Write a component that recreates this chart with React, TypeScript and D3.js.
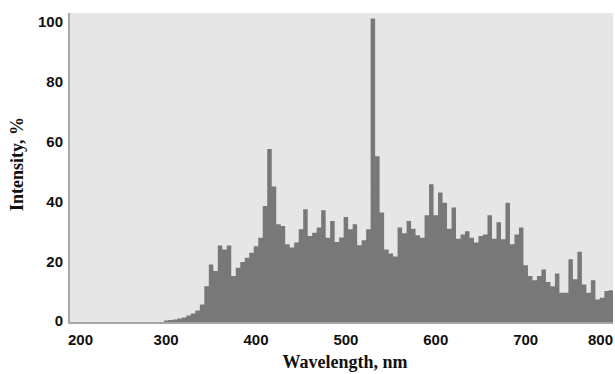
import React, { useEffect, useRef } from "react";
import * as d3 from "d3";

// bin centres, nm (5 nm bins)
const wavelengths = [
  300, 305, 310, 315, 320, 325, 330, 335, 340, 345,
  350, 355, 360, 365, 370, 375, 380, 385, 390, 395,
  400, 405, 410, 415, 420, 425, 430, 435, 440, 445,
  450, 455, 460, 465, 470, 475, 480, 485, 490, 495,
  500, 505, 510, 515, 520, 525, 530, 535, 540, 545,
  550, 555, 560, 565, 570, 575, 580, 585, 590, 595,
  600, 605, 610, 615, 620, 625, 630, 635, 640, 645,
  650, 655, 660, 665, 670, 675, 680, 685, 690, 695,
  700, 705, 710, 715, 720, 725, 730, 735, 740, 745,
  750, 755, 760, 765, 770, 775, 780, 785, 790, 795,
];

// intensity, %
const intensity = [
  0.2, 0.3, 0.5, 0.8, 1.2, 1.8, 2.5, 3.5, 5.5, 11.6,
  18.9, 16.7, 25.2, 23.9, 25.2, 15, 17.8, 19.7, 21.1, 22.8,
  25, 27.8, 38.4, 57.4, 44.9, 32.3, 31.7, 25.6, 24.5, 26.2,
  30.6, 37.3, 28.4, 29.5, 31.2, 37, 27.8, 33.4, 26.4, 27.9,
  34.7, 30.6, 32.3, 25.3, 27, 30.6, 101, 55, 36.2, 23.9,
  22.5, 21.5, 31.2, 29.3, 33.4, 30.8, 28.6, 27.8, 35.3, 45.7,
  35.3, 42.9, 39.5, 30.8, 37.9, 27.5, 28.9, 30, 27.8, 26.2,
  28.4, 28.9, 35.3, 27.5, 33, 27.3, 39.5, 25.6, 28.9, 31.2,
  18.6, 15, 13.6, 15, 17.2, 13, 11.6, 15.9, 9.4, 9.4,
  20.6, 13.9, 23.1, 12.2, 9.4, 13.6, 7.2, 7.8, 10, 10.3,
];

const xTicks = [200, 300, 400, 500, 600, 700, 800];
const yTicks = [0, 20, 40, 60, 80, 100];

const W = 615;
const H = 374;
const plot = { left: 69, right: 613, top: 13, bottom: 324 };
const binWidth = 5;

const App = () => {
  const svgRef = useRef<SVGSVGElement | null>(null);

  useEffect(() => {
    const svg = d3.select(svgRef.current);
    svg.selectAll("*").remove();

    const x = d3.scaleLinear().domain([200, 800]).range([76.2, 615.6]);
    const y = d3.scaleLinear().domain([0, 100]).range([321, 21.5]);

    // step outline: each bin starts at its left edge, last point closes the final bin
    const steps = wavelengths.map((w, i) => ({ edge: w - binWidth / 2, v: intensity[i] }));
    steps.push({
      edge: wavelengths[wavelengths.length - 1] + binWidth / 2,
      v: intensity[intensity.length - 1],
    });

    svg
      .append("defs")
      .append("clipPath")
      .attr("id", "plot-clip")
      .append("rect")
      .attr("x", plot.left)
      .attr("y", plot.top)
      .attr("width", plot.right - plot.left)
      .attr("height", plot.bottom - plot.top);

    // plot background
    svg
      .append("rect")
      .attr("x", plot.left)
      .attr("y", plot.top)
      .attr("width", plot.right - plot.left)
      .attr("height", plot.bottom - plot.top)
      .attr("fill", "#e6e6e6");

    const area = d3
      .area<{ edge: number; v: number }>()
      .x((d) => x(d.edge))
      .y0(plot.bottom)
      .y1((d) => y(d.v))
      .curve(d3.curveStepAfter);

    // histogram bars as one solid shape (no seams between bins)
    svg
      .append("path")
      .datum(steps)
      .attr("clip-path", "url(#plot-clip)")
      .attr("d", area)
      .attr("fill", "#787878");

    // frame lines (left + bottom)
    svg
      .append("path")
      .attr("d", `M${plot.left},${plot.top}V${plot.bottom - 1}H${plot.right}`)
      .attr("fill", "none")
      .attr("stroke", "#a6a6a6")
      .attr("stroke-width", 2);

    // y tick labels
    svg
      .append("g")
      .selectAll("text")
      .data(yTicks)
      .join("text")
      .attr("x", 63)
      .attr("y", (d) => y(d))
      .attr("dy", "0.36em")
      .attr("text-anchor", "end")
      .style("font-family", "'Liberation Sans', Arial, sans-serif")
      .style("font-weight", "bold")
      .style("font-size", "15px")
      .attr("fill", "#111")
      .text((d) => d);

    // x tick labels, end labels kept inside the frame
    svg
      .append("g")
      .selectAll("text")
      .data(xTicks)
      .join("text")
      .attr("x", (d, i) =>
        i === 0 ? plot.left - 1 : i === xTicks.length - 1 ? plot.right : x(d)
      )
      .attr("y", 345)
      .attr("text-anchor", (d, i) =>
        i === 0 ? "start" : i === xTicks.length - 1 ? "end" : "middle"
      )
      .style("font-family", "'Liberation Sans', Arial, sans-serif")
      .style("font-weight", "bold")
      .style("font-size", "15px")
      .attr("fill", "#111")
      .text((d) => d);

    // axis titles
    svg
      .append("text")
      .attr("x", 345)
      .attr("y", 368)
      .attr("text-anchor", "middle")
      .style("font-family", "'Liberation Serif', 'Times New Roman', serif")
      .style("font-weight", "bold")
      .style("font-size", "18px")
      .attr("fill", "#111")
      .text("Wavelength, nm");

    svg
      .append("text")
      .attr("transform", `translate(23,164) rotate(-90)`)
      .attr("text-anchor", "middle")
      .style("font-family", "'Liberation Serif', 'Times New Roman', serif")
      .style("font-weight", "bold")
      .style("font-size", "18px")
      .attr("fill", "#111")
      .text("Intensity, %");
  }, []);

  return (
    <svg
      ref={svgRef}
      width={W}
      height={H}
      style={{ position: "absolute", left: 0, top: 0, background: "#fff" }}
    />
  );
};

export default App;
